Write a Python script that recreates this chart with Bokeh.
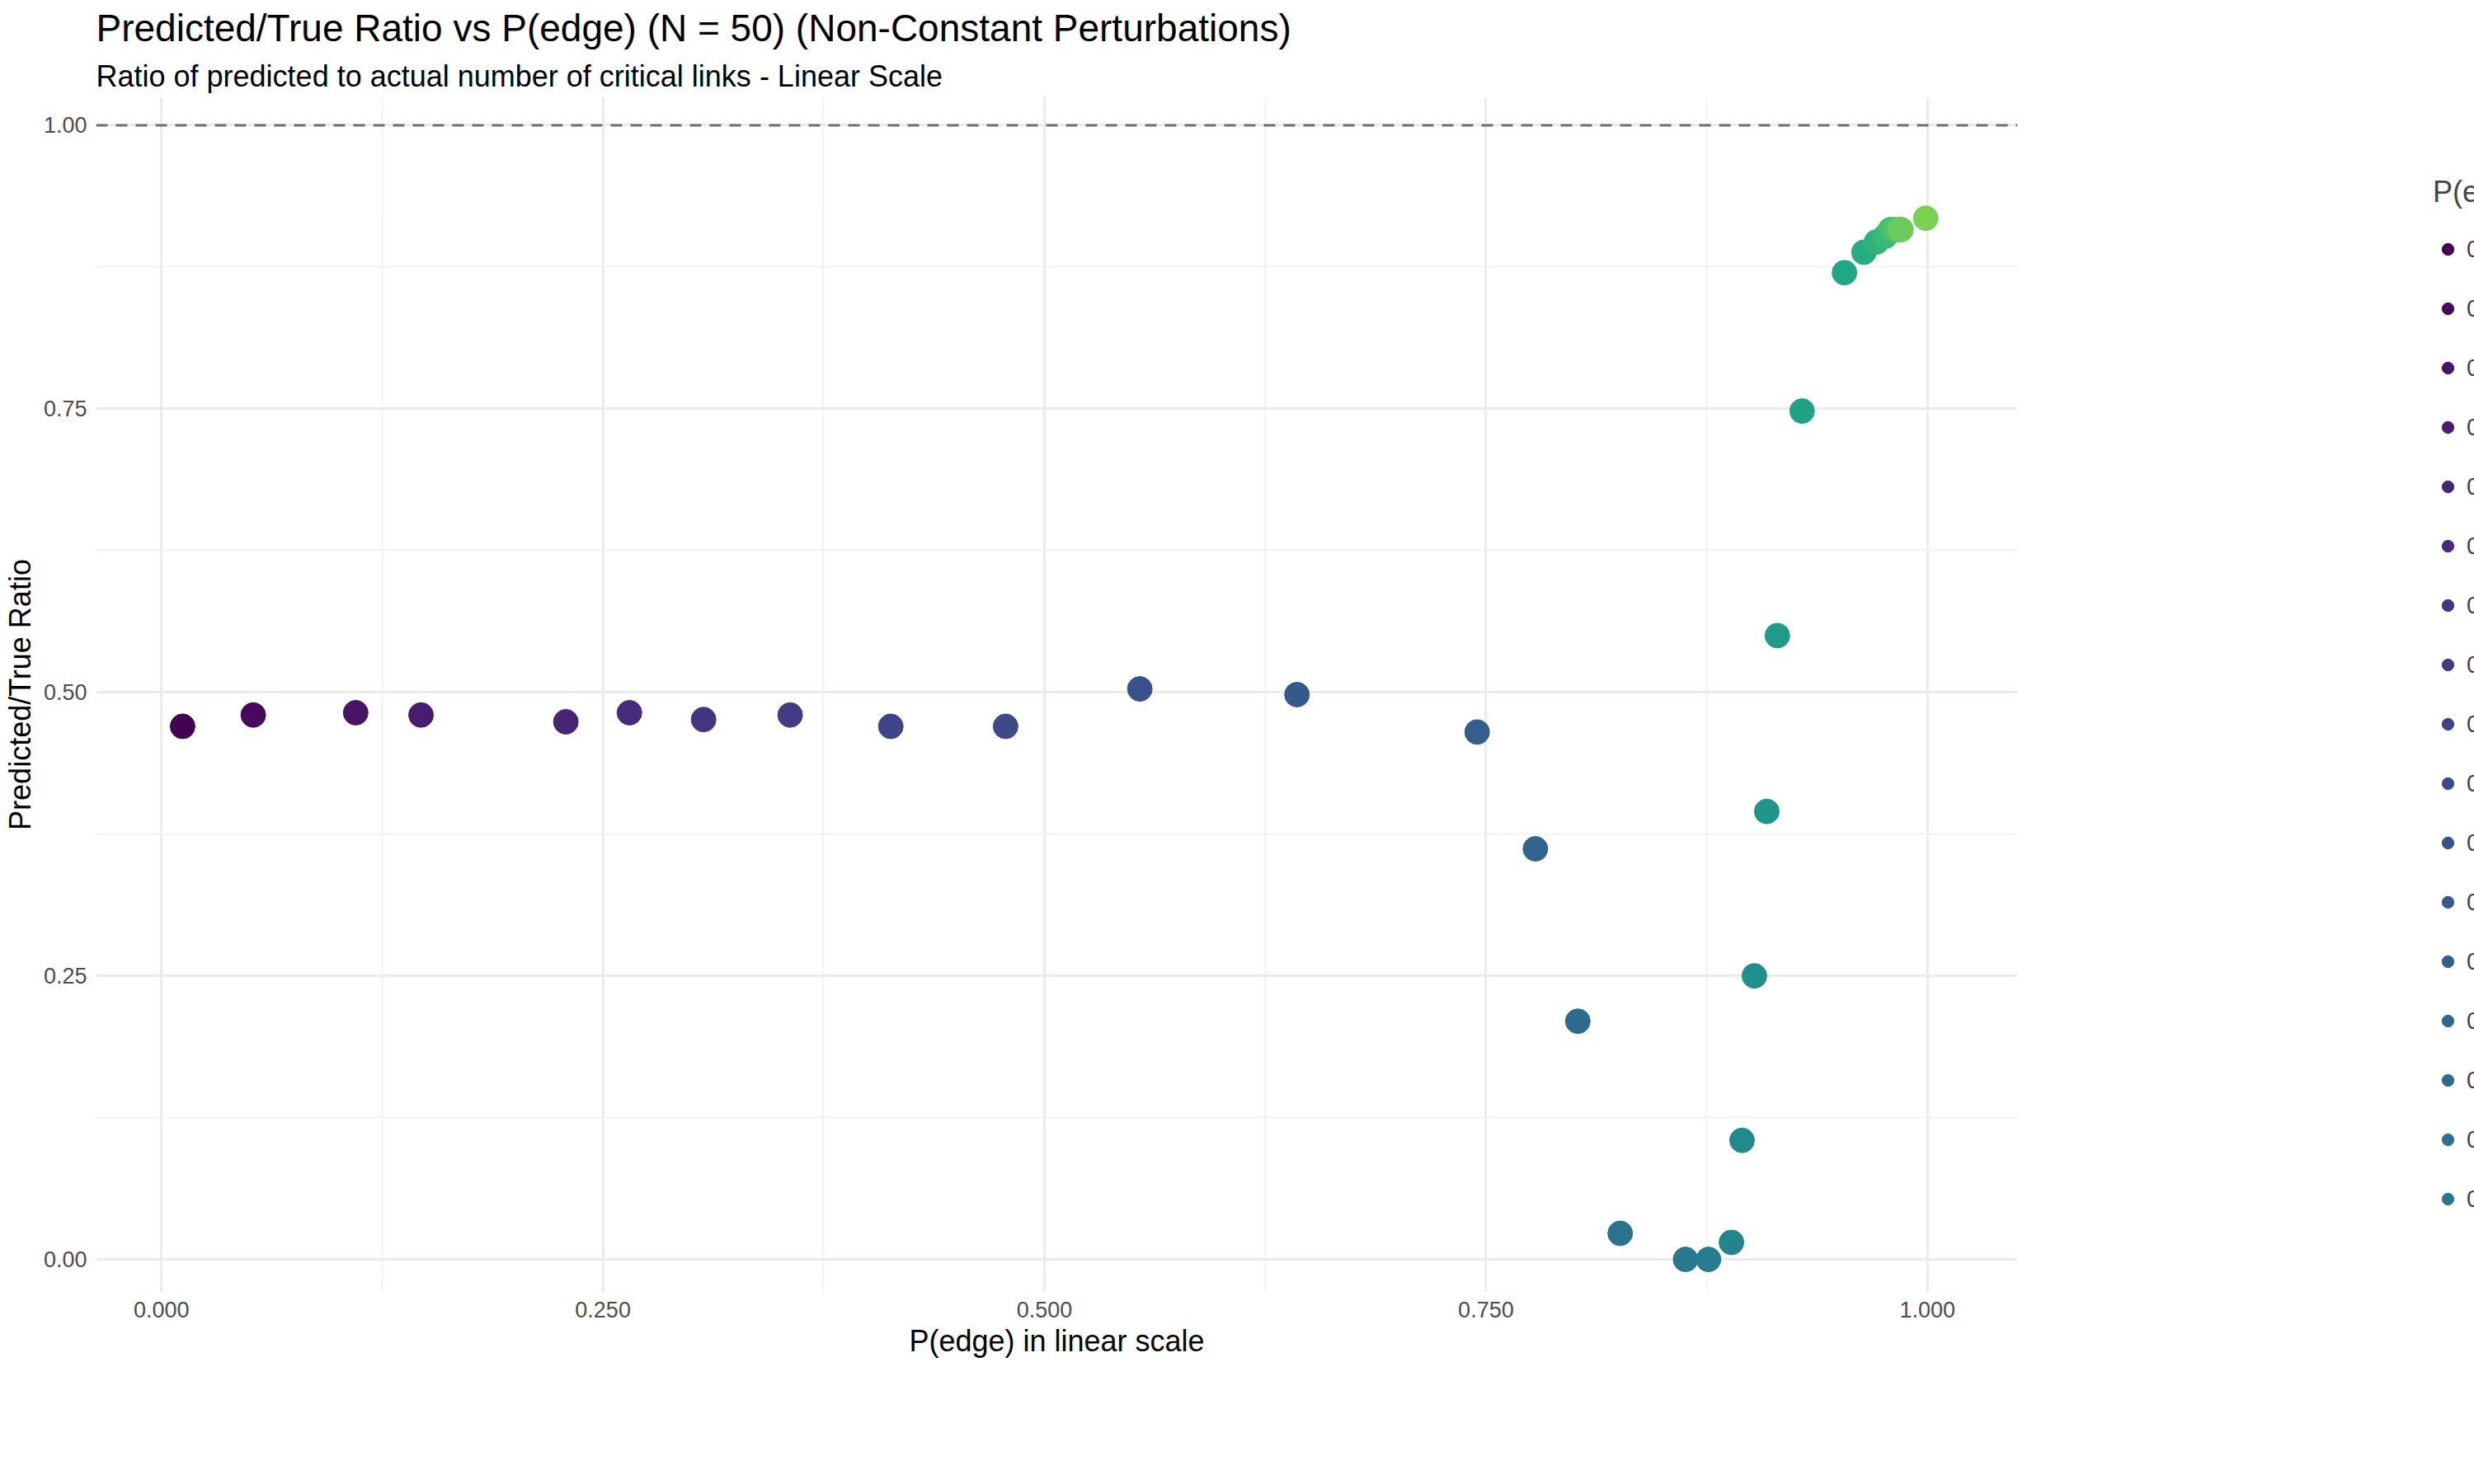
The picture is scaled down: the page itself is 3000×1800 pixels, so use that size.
from bokeh.plotting import figure
from bokeh.models import (ColumnDataSource, Span, Legend, LegendItem, Title,
                          FixedTicker, Range1d, NumeralTickFormatter)
from bokeh.palettes import Viridis256
from bokeh.embed import file_html
from bokeh.resources import INLINE

p_edge = [0.012, 0.052, 0.11, 0.147, 0.229, 0.265, 0.307, 0.356, 0.413, 0.478,
          0.554, 0.643, 0.745, 0.778, 0.802, 0.826, 0.863, 0.876, 0.889, 0.895,
          0.902, 0.909, 0.915, 0.929, 0.953, 0.964, 0.971, 0.976, 0.979, 0.982,
          0.984, 0.985, 0.999]
ratio = [0.470, 0.480, 0.482, 0.480, 0.474, 0.482, 0.476, 0.480, 0.470, 0.470,
         0.503, 0.498, 0.465, 0.362, 0.210, 0.023, 0.000, 0.000, 0.015, 0.105,
         0.250, 0.395, 0.550, 0.748, 0.870, 0.888, 0.897, 0.902, 0.908, 0.908,
         0.908, 0.908, 0.918]
labels = ["0.012", "0.052", "0.11", "0.147", "0.229", "0.265", "0.307", "0.356",
          "0.413", "0.478", "0.554", "0.643", "0.745", "0.778", "0.802", "0.826",
          "0.863", "0.876", "0.889", "0.895", "0.902", "0.909", "0.915", "0.929",
          "0.953", "0.964", "0.971", "0.976", "0.979", "0.982", "0.984", "0.985",
          "0.999"]

FONT = "Liberation Sans"

p = figure(frame_width=2330, frame_height=1450, output_backend="svg", toolbar_location=None,
           x_range=Range1d(-0.037, 1.051), y_range=Range1d(-0.029, 1.025),
           min_border_left=20, min_border_right=20, min_border_bottom=20)
p.outline_line_color = None
p.background_fill_color = "white"

n = len(p_edge)
items = []
for i, (pe, r, lab) in enumerate(zip(p_edge, ratio, labels)):
    idx = int(round(i / (n - 1) * 0.8 * 255))
    src = ColumnDataSource(dict(x=[pe], y=[r]))
    g = p.scatter("x", "y", source=src, size=30, color=Viridis256[idx])
    items.append(LegendItem(label=lab, renderers=[g]))

p.add_layout(Span(location=1.0, dimension="width", line_color="#707070",
                  line_width=3, line_dash="14 10"))

for ax in (p.xaxis, p.yaxis):
    ax.axis_line_color = None
    ax.major_tick_line_color = None
    ax.minor_tick_line_color = None
    ax.major_label_text_font = FONT
    ax.major_label_text_font_size = "27px"
    ax.major_label_text_color = "#4d4d4d"
    ax.axis_label_text_font = FONT
    ax.axis_label_text_font_size = "36px"
    ax.axis_label_text_font_style = "normal"
    ax.axis_label_text_color = "black"
p.xaxis.ticker = FixedTicker(ticks=[0, 0.25, 0.5, 0.75, 1.0],
                             minor_ticks=[0.125, 0.375, 0.625, 0.875])
p.yaxis.ticker = FixedTicker(ticks=[0, 0.25, 0.5, 0.75, 1.0],
                             minor_ticks=[0.125, 0.375, 0.625, 0.875])
p.xaxis.formatter = NumeralTickFormatter(format="0.000")
p.yaxis.formatter = NumeralTickFormatter(format="0.00")
p.xaxis.axis_label = "P(edge) in linear scale"
p.yaxis.axis_label = "Predicted/True Ratio"
p.grid.grid_line_color = "#ebebeb"
p.grid.grid_line_width = 3
p.grid.minor_grid_line_color = "#f2f2f2"
p.grid.minor_grid_line_width = 2

legend = Legend(items=items, nrows=17, title="P(edge)", location="center",
                label_text_font=FONT, label_text_font_size="29px",
                title_text_font=FONT, title_text_font_size="36px",
                title_text_font_style="normal", border_line_color=None,
                glyph_width=36, glyph_height=36, spacing=36, label_width=90,
                title_standoff=30, margin=40, padding=10)
p.add_layout(legend, "right")

p.add_layout(Title(text="Ratio of predicted to actual number of critical links - Linear Scale",
                   text_font=FONT, text_font_size="36px", text_font_style="normal",
                   text_color="black", offset=0), "above")
p.add_layout(Title(text="Predicted/True Ratio vs P(edge) (N = 50) (Non-Constant Perturbations)",
                   text_font=FONT, text_font_size="46px", text_font_style="normal",
                   text_color="black"), "above")

open("out.html", "w").write(file_html(p, INLINE))
